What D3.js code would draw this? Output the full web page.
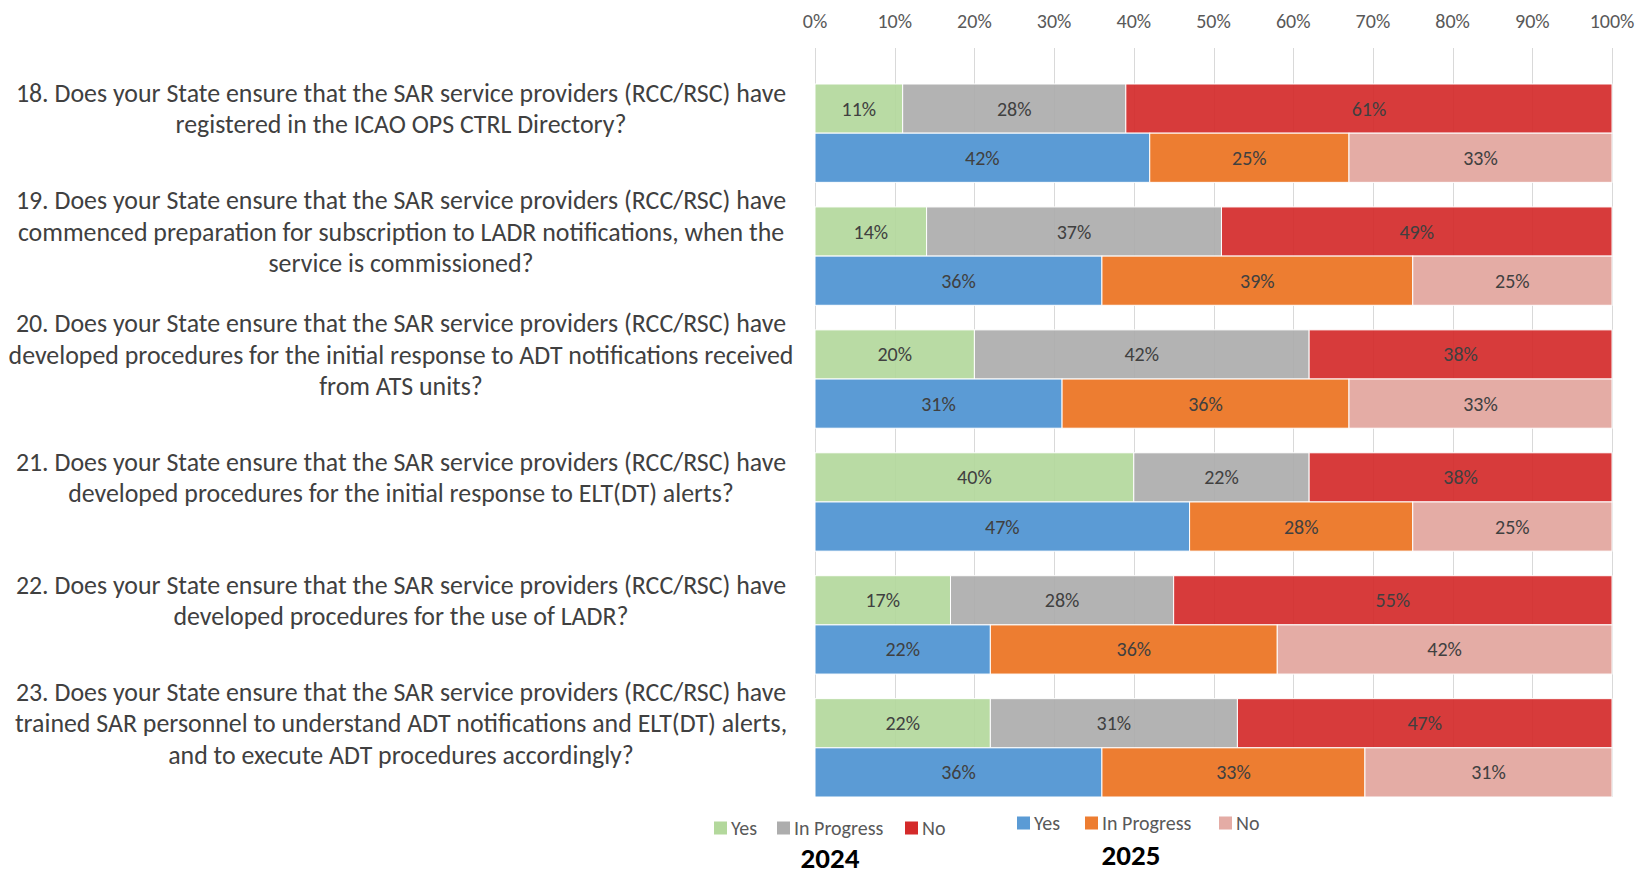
<!DOCTYPE html>
<html lang="en">
<head>
<meta charset="utf-8">
<title>SAR survey 2024 vs 2025</title>
<script src="https://d3js.org/d3.v7.min.js"></script>
<style>
  body { margin: 0; background: #fff; }
  svg text { font-family: Carlito, "Liberation Sans Narrow", Lato, sans-serif; }
  .grid line { stroke: #d9d9d9; stroke-width: 1; shape-rendering: crispEdges; }
  .tick-lbl { fill: #595959; font-size: 20px; }
  .q { fill: #404040; }
  .val { fill: #404040; font-size: 20px; }
  .leg { fill: #595959; font-size: 20px; }
  .year { fill: #000; font-size: 29px; font-weight: bold; }
</style>
</head>
<body>
<script>
var w = 1639;
var h = 876;

// questions, one line per array entry
var questions = [
  ["18. Does your State ensure that the SAR service providers (RCC/RSC) have", "registered in the ICAO OPS CTRL Directory?"],
  ["19. Does your State ensure that the SAR service providers (RCC/RSC) have", "commenced preparation for subscription to LADR notifications, when the", "service is commissioned?"],
  ["20. Does your State ensure that the SAR service providers (RCC/RSC) have", "developed procedures for the initial response to ADT notifications received", "from ATS units?"],
  ["21. Does your State ensure that the SAR service providers (RCC/RSC) have", "developed procedures for the initial response to ELT(DT) alerts?"],
  ["22. Does your State ensure that the SAR service providers (RCC/RSC) have", "developed procedures for the use of LADR?"],
  ["23. Does your State ensure that the SAR service providers (RCC/RSC) have", "trained SAR personnel to understand ADT notifications and ELT(DT) alerts,", "and to execute ADT procedures accordingly?"]
];
var qIds = ["18", "19", "20", "21", "22", "23"];

var answers = ["Yes", "In Progress", "No"];

// percentages [Yes, In Progress, No]
var data2024 = [
  [11, 28, 61],
  [14, 37, 49],
  [20, 42, 38],
  [40, 22, 38],
  [17, 28, 55],
  [22, 31, 47]
];
var data2025 = [
  [42, 25, 33],
  [36, 39, 25],
  [31, 36, 33],
  [47, 28, 25],
  [22, 36, 42],
  [36, 33, 31]
];

var colors2024 = ["#b3d89c", "#adadad", "#d42a2a"];
var colors2025 = ["#5b9bd5", "#ed7d31", "#e4aca5"];

var xTicks = [0, 10, 20, 30, 40, 50, 60, 70, 80, 90, 100];

var svg = d3.select("body").append("svg")
    .attr("width", w)
    .attr("height", h);

var xScale = d3.scaleLinear().domain([0, 100]).range([815, 1612]);
var yScale = d3.scaleBand().domain(qIds).range([84, 797]).paddingInner(0.2).paddingOuter(0);
var yearScale = d3.scaleBand().domain(["2024", "2025"]).range([0, yScale.bandwidth()]);

// gridlines
svg.append("g").attr("class", "grid")
  .selectAll("line").data(xTicks).enter().append("line")
    .attr("x1", function(d) { return Math.round(xScale(d)) + 0.5; })
    .attr("x2", function(d) { return Math.round(xScale(d)) + 0.5; })
    .attr("y1", 48)
    .attr("y2", 797);

// tick labels on top
svg.append("g").selectAll("text").data(xTicks).enter().append("text")
    .attr("class", "tick-lbl")
    .attr("x", function(d) { return xScale(d); })
    .attr("y", 21)
    .attr("dy", "0.35em")
    .attr("text-anchor", "middle")
    .text(function(d) { return d + "%"; });

function stackRow(vals) {
  var out = [], acc = 0;
  vals.forEach(function(v, i) {
    out.push({ i: i, x0: acc, x1: acc + v, v: v });
    acc += v;
  });
  return out;
}

function drawYear(year, rows, cols, op) {
  var g = svg.append("g");
  qIds.forEach(function(q, qi) {
    var y0 = yScale(q) + yearScale(year);
    var segs = stackRow(rows[qi]);
    g.selectAll(null).data(segs).enter().append("rect")
      .attr("x", function(d) { return xScale(d.x0); })
      .attr("y", y0)
      .attr("width", function(d) { return xScale(d.x1) - xScale(d.x0); })
      .attr("height", yearScale.bandwidth())
      .attr("fill", function(d) { return cols[d.i]; })
      .attr("fill-opacity", op)
      .attr("stroke", "#fff")
      .attr("stroke-width", 1);
    g.selectAll(null).data(segs).enter().append("text")
      .attr("class", "val")
      .attr("x", function(d) { return xScale((d.x0 + d.x1) / 2); })
      .attr("y", y0 + yearScale.bandwidth() / 2)
      .attr("dy", "0.35em")
      .attr("text-anchor", "middle")
      .text(function(d) { return d.v + "%"; });
  });
}

drawYear("2024", data2024, colors2024, 0.92);
drawYear("2025", data2025, colors2025, 1);

// question labels, centered on the 2024 bar
var qSize = 22.5;
var lineH = 31.4;
var qg = svg.append("g");
var qText = qg.selectAll("text").data(questions).enter().append("text")
    .attr("class", "q")
    .style("font-size", qSize + "px")
    .attr("text-anchor", "middle");
qText.each(function(lines, qi) {
  var cy = yScale(qIds[qi]) + yearScale("2024") + yearScale.bandwidth() / 2;
  var top = cy - (lines.length - 1) * lineH / 2;
  d3.select(this).selectAll("tspan").data(lines).enter().append("tspan")
    .attr("x", 401)
    .attr("y", function(d, i) { return top + i * lineH; })
    .attr("dy", "0.35em")
    .text(function(d) { return d; });
});

// fit the widest line to the space left of the bars
var widest = 0;
qg.selectAll("tspan").each(function() { widest = Math.max(widest, this.getComputedTextLength()); });
var fit = qSize * 785 / widest;
qText.style("font-size", fit + "px");

// legends
function legend(items, cols, x0s, tx, y) {
  var g = svg.append("g");
  items.forEach(function(t, i) {
    g.append("rect").attr("x", x0s[i]).attr("y", y - 6.5).attr("width", 13).attr("height", 13).attr("fill", cols[i]);
    g.append("text").attr("class", "leg").attr("x", tx[i]).attr("y", y).attr("dy", "0.35em").text(t);
  });
}
legend(answers, colors2024, [714, 777, 905], [731, 794, 922], 828);
legend(answers, colors2025, [1017, 1085, 1219], [1034, 1102, 1236], 823);

svg.append("text").attr("class", "year").attr("x", 830).attr("y", 858).attr("dy", "0.35em").attr("text-anchor", "middle").text("2024");
svg.append("text").attr("class", "year").attr("x", 1131).attr("y", 855).attr("dy", "0.35em").attr("text-anchor", "middle").text("2025");
</script>
</body>
</html>
